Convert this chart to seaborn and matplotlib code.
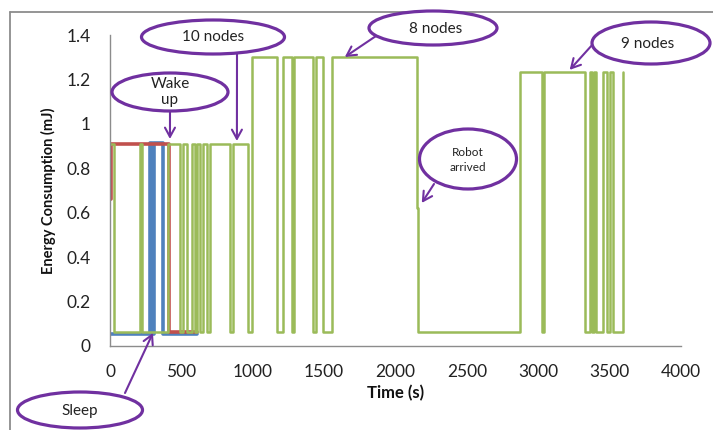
import numpy as np
import pandas as pd
import matplotlib
matplotlib.use("Agg")
import matplotlib.pyplot as plt
import seaborn as sns
from matplotlib.patches import Ellipse
from matplotlib.lines import Line2D

# ---------------- data (step starts: time in s, energy in mJ) ----------------
blue_t = [0, 280, 295, 310, 370, 610]
blue_e = [0.055, 0.915, 0.055, 0.915, 0.055, 0.055]

red_t = [0, 5, 410, 610]
red_e = [0.66, 0.91, 0.065, 0.065]

green_t = [0, 25, 210, 225, 406, 490, 511, 539, 574, 595, 609, 630, 651, 679, 700,
           840, 861, 966, 994, 1169, 1211, 1274, 1288, 1421, 1442, 1491, 1554,
           2149, 2156, 2870, 3024, 3038, 3325, 3360, 3374, 3388, 3402, 3451, 3479,
           3500, 3521, 3591, 3595]
green_e = [0.91, 0.065, 0.91, 0.065, 0.91, 0.065, 0.91, 0.065, 0.91, 0.065, 0.91,
           0.065, 0.91, 0.065, 0.91, 0.065, 0.91, 0.065, 1.30, 0.065, 1.30, 0.065,
           1.30, 0.065, 1.30, 0.065, 1.30, 0.62, 0.065, 1.235, 0.065, 1.235, 0.065,
           1.235, 0.065, 1.235, 0.065, 1.235, 0.065, 1.235, 0.065, 1.235, 1.235]

x_ticks = [0, 500, 1000, 1500, 2000, 2500, 3000, 3500, 4000]
y_ticks = [0, 0.2, 0.4, 0.6, 0.8, 1.0, 1.2, 1.4]
y_tick_labels = ["0", "0.2", "0.4", "0.6", "0.8", "1", "1.2", "1.4"]

# callouts: label, tip (time, energy)
callout_labels = ["10 nodes", "Wake\nup", "8 nodes", "9 nodes", "Robot\narrived", "Sleep"]
callout_tips = [(889, 0.923), (420, 0.932), (1645, 1.301), (3220, 1.243), (2184, 0.644), (301, 0.059)]

# ---------------- layout (pixels) ----------------
W, H = 713, 430
PURPLE = "#7030A0"

sns.set_theme(style="white")
plt.rcParams['font.family'] = ['Lato', 'DejaVu Sans']

fig = plt.figure(figsize=(W / 100, H / 100), dpi=100)
ax = fig.add_axes([110 / W, 1 - 346 / H, (681 - 110) / W, (346 - 35) / H])


def fp(x, y):
    return (x / W, 1 - y / H)


series = [
    (blue_t, blue_e, "#4F81BD", 2.6),
    (red_t, red_e, "#C0504D", 2.6),
    (green_t, green_e, "#9BBB59", 1.8),
]
for t, e, c, lw in series:
    df = pd.DataFrame({"t": t, "e": e})
    sns.lineplot(data=df, x="t", y="e", ax=ax, color=c, linewidth=lw,
                 estimator=None, sort=False, drawstyle="steps-post")

ax.set_xlim(0, 4000)
ax.set_ylim(0, 1.4)
ax.set_xticks(x_ticks)
ax.set_xticklabels([str(v) for v in x_ticks])
ax.set_yticks(y_ticks)
ax.set_yticklabels(y_tick_labels)
ax.tick_params(axis="both", length=0, labelsize=12.5, colors="#222222")
ax.tick_params(axis="y", pad=14)
ax.tick_params(axis="x", pad=13)
for s in ["top", "right"]:
    ax.spines[s].set_visible(False)
for s in ["left", "bottom"]:
    ax.spines[s].set_color("#8C8C8C")
    ax.spines[s].set_linewidth(1.0)

ax.set_xlabel("Time (s)", fontsize=12, fontweight="bold", color="#111111")
ax.set_ylabel("Energy Consumption (mJ)", fontsize=10.5, fontweight="bold", color="#111111")
ax.xaxis.label.set_va("center")
ax.yaxis.label.set_va("center")
ax.xaxis.set_label_coords(0.5, (346 - 393) / 311)
ax.yaxis.set_label_coords((48 - 110) / 571, 0.5)

# outer chart border (left and top edges visible)
fig.add_artist(Line2D([10 / W, 10 / W], [0, 1 - 12 / H], color="#8C8C8C", lw=1.3))
fig.add_artist(Line2D([10 / W, 1], [1 - 12 / H, 1 - 12 / H], color="#8C8C8C", lw=1.3))

# callouts
ell_geo = [(213, 37, 143, 34), (170, 92, 116, 38), (433, 28, 128, 34),
           (651, 43, 118, 42), (468, 159, 97, 60), (80, 410, 125, 36)]
text_pos = [(213, 37), (170, 92), (436, 29), (648, 44), (468, 160), (80, 411)]
text_size = [11, 11, 11, 11, 8.5, 11]
text_spacing = [1.2, 1.2, 1.2, 1.2, 1.4, 1.2]
arrow_start = [(237, 54), (170, 111), (376, 36), (593, 44), (434, 184), (125, 393)]

for (cx, cy, w, h), lab, (tx, ty), fs, ls, (sx, sy), tip in zip(
        ell_geo, callout_labels, text_pos, text_size, text_spacing, arrow_start, callout_tips):
    ax.annotate("", xy=tip, xycoords="data", xytext=fp(sx, sy),
                textcoords="figure fraction", annotation_clip=False,
                arrowprops=dict(arrowstyle="->,head_length=0.55,head_width=0.3",
                                color=PURPLE, lw=1.5, shrinkA=0, shrinkB=0),
                zorder=5)
    e = Ellipse(fp(cx, cy), w / W, h / H, transform=fig.transFigure,
                facecolor="white", edgecolor=PURPLE, lw=2.3, zorder=6)
    fig.add_artist(e)
    fig.text(*fp(tx, ty), lab, ha="center", va="center", fontsize=fs,
             color="#222222", linespacing=ls, zorder=7)

fig.savefig("out.png", dpi=100)
